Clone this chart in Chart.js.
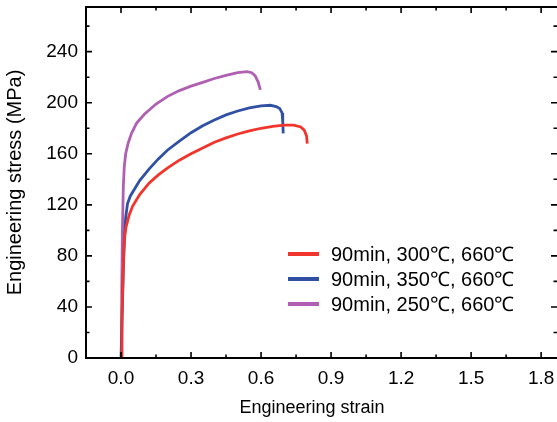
<!DOCTYPE html>
<html>
<head>
<meta charset="utf-8">
<script src="https://cdn.jsdelivr.net/npm/chart.js@4/dist/chart.umd.min.js"></script>
<style>
html,body{margin:0;padding:0;background:#fff;}
#wrap{width:557px;height:422px;}
</style>
</head>
<body>
<div id="wrap"><canvas id="c" width="557" height="422"></canvas></div>
<script>
// ---- data ----
const seriesLabels = ["90min, 300\u2103, 660\u2103", "90min, 350\u2103, 660\u2103", "90min, 250\u2103, 660\u2103"];
const seriesColors = ["#f0352d", "#3050a4", "#b060b2"];

const redStrain  = [0, 0.004, 0.008, 0.012, 0.017, 0.022, 0.035, 0.05, 0.08, 0.12, 0.16, 0.2, 0.25, 0.3, 0.35, 0.4, 0.45, 0.5, 0.55, 0.6, 0.65, 0.7, 0.74, 0.77, 0.785, 0.795, 0.798];
const redStress  = [0, 30, 60, 85, 97, 103, 112, 119, 128, 137, 143.5, 149, 155, 160, 164.5, 169, 172.5, 175.5, 178, 180, 181.5, 182.5, 182.5, 181, 178.5, 174, 168];

const blueStrain = [0, 0.005, 0.01, 0.015, 0.02, 0.028, 0.04, 0.06, 0.08, 0.12, 0.16, 0.2, 0.25, 0.3, 0.35, 0.4, 0.45, 0.5, 0.55, 0.6, 0.64, 0.665, 0.68, 0.69, 0.693, 0.695];
const blueStress = [0, 35, 70, 95, 110, 121, 127, 133, 139, 148, 156, 163, 170, 176.5, 182, 186.5, 190.5, 193.5, 196, 197.5, 198, 197, 195.5, 192, 185, 176];

const purpleStrain = [0, 0.003, 0.006, 0.01, 0.014, 0.02, 0.03, 0.045, 0.067, 0.1, 0.15, 0.2, 0.25, 0.3, 0.35, 0.4, 0.45, 0.5, 0.54, 0.56, 0.575, 0.588, 0.597];
const purpleStress = [0, 50, 100, 135, 150, 160, 168, 176, 184, 191, 199, 205, 209.5, 213, 216, 219, 221.5, 223.5, 224.3, 223.5, 221, 216, 210];

const xTickValues = [0, 0.3, 0.6, 0.9, 1.2, 1.5, 1.8];
const xTickLabels = ["0.0", "0.3", "0.6", "0.9", "1.2", "1.5", "1.8"];
const xMinorValues = [-0.15, 0.15, 0.45, 0.75, 1.05, 1.35, 1.65];
const yTickValues = [0, 40, 80, 120, 160, 200, 240];
const yTickLabels = ["0", "40", "80", "120", "160", "200", "240"];
const yMinorValues = [20, 60, 100, 140, 180, 220, 260];
const xTitle = "Engineering strain";
const yTitle = "Engineering stress (MPa)";

const FONT = "'Liberation Sans', Arial, sans-serif";

function pts(xs, ys){ return xs.map((x,i)=>({x:x, y:ys[i]})); }

const datasets = [
  {label: seriesLabels[0], data: pts(redStrain, redStress)},
  {label: seriesLabels[1], data: pts(blueStrain, blueStress)},
  {label: seriesLabels[2], data: pts(purpleStrain, purpleStress)}
].map((d,i)=>Object.assign(d, {
  borderColor: seriesColors[i], backgroundColor: seriesColors[i],
  showLine: true, pointRadius: 0, borderWidth: 2.8, tension: 0, fill: false
}));

const framePlugin = {
  id: 'frame',
  afterDraw(chart){
    const ctx = chart.ctx, a = chart.chartArea;
    const xs = chart.scales.x, ys = chart.scales.y;
    ctx.save();
    ctx.strokeStyle = '#000';
    ctx.lineWidth = 2;
    ctx.beginPath();
    ctx.moveTo(a.right + 2, a.bottom); ctx.lineTo(a.left, a.bottom);
    ctx.lineTo(a.left, a.top); ctx.lineTo(a.right + 2, a.top);
    ctx.stroke();
    ctx.lineWidth = 1.6;
    const major = 6, minor = 3.5;
    ctx.beginPath();
    xTickValues.forEach(v=>{ const p = xs.getPixelForValue(v);
      ctx.moveTo(p, a.bottom); ctx.lineTo(p, a.bottom - major);
      ctx.moveTo(p, a.top); ctx.lineTo(p, a.top + major); });
    xMinorValues.forEach(v=>{ const p = xs.getPixelForValue(v);
      ctx.moveTo(p, a.bottom); ctx.lineTo(p, a.bottom - minor);
      ctx.moveTo(p, a.top); ctx.lineTo(p, a.top + minor); });
    yTickValues.forEach(v=>{ const p = ys.getPixelForValue(v);
      ctx.moveTo(a.left, p); ctx.lineTo(a.left + major, p);
      ctx.moveTo(a.right, p); ctx.lineTo(a.right - major, p); });
    yMinorValues.forEach(v=>{ const p = ys.getPixelForValue(v);
      ctx.moveTo(a.left, p); ctx.lineTo(a.left + minor, p);
      ctx.moveTo(a.right, p); ctx.lineTo(a.right - minor, p); });
    ctx.stroke();

    // x-axis title (the reference centres it left of the cropped plot centre)
    ctx.fillStyle = '#000';
    ctx.font = "18px " + FONT;
    ctx.textAlign = 'center';
    ctx.textBaseline = 'middle';
    ctx.fillText(xTitle, 312, 408);

    // legend
    ctx.font = "20px " + FONT;
    ctx.textBaseline = 'middle';
    ctx.textAlign = 'left';
    const lx0 = 288, lx1 = 319, tx = 331, ly0 = 254, dy = 25;
    chart.data.datasets.forEach((d,i)=>{
      const y = ly0 + i*dy;
      ctx.strokeStyle = d.borderColor; ctx.lineWidth = 4;
      ctx.beginPath(); ctx.moveTo(lx0, y); ctx.lineTo(lx1, y); ctx.stroke();
      ctx.fillStyle = '#000';
      ctx.fillText(d.label, tx, y + 1);
    });
    ctx.restore();
  }
};

const bgPlugin = {
  id: 'bg',
  beforeDraw(chart){ const c = chart.ctx; c.save(); c.fillStyle='#fff'; c.fillRect(0,0,chart.width,chart.height); c.restore(); }
};

new Chart(document.getElementById('c'), {
  type: 'scatter',
  data: {datasets},
  options: {
    responsive: false,
    animation: false,
    devicePixelRatio: 1,
    layout: {padding: {top: 7, right: 0, left: 0, bottom: 0}},
    plugins: {legend: {display: false}, tooltip: {enabled: false}},
    scales: {
      x: {
        type: 'linear', min: -0.15, max: 1.868,
        grid: {display: false, drawTicks: false},
        border: {display: false},
        afterBuildTicks(s){ s.ticks = xTickValues.map(v=>({value:v})); },
        afterFit(s){ s.height = 64; s.paddingLeft = 0; s.paddingRight = 0; },
        ticks: {padding: 9, color: '#000', font: {family: FONT, size: 19},
          callback: (v)=>{ const i = xTickValues.findIndex(t=>Math.abs(t-v)<1e-9); return i>=0 ? xTickLabels[i] : ''; },
          maxRotation: 0, autoSkip: false},
        title: {display: false}
      },
      y: {
        type: 'linear', min: 0, max: 275,
        grid: {display: false, drawTicks: false},
        border: {display: false},
        afterBuildTicks(s){ s.ticks = yTickValues.map(v=>({value:v})); },
        afterFit(s){ s.width = 86; s.paddingTop = 0; s.paddingBottom = 0; },
        ticks: {padding: 8, color: '#000', font: {family: FONT, size: 19},
          callback: (v)=>{ const i = yTickValues.indexOf(v); return i>=0 ? yTickLabels[i] : ''; },
          autoSkip: false},
        title: {display: true, text: yTitle, color: '#000', font: {family: FONT, size: 20}, padding: {top: 3, bottom: 0}}
      }
    }
  },
  plugins: [bgPlugin, framePlugin]
});
</script>
</body>
</html>
